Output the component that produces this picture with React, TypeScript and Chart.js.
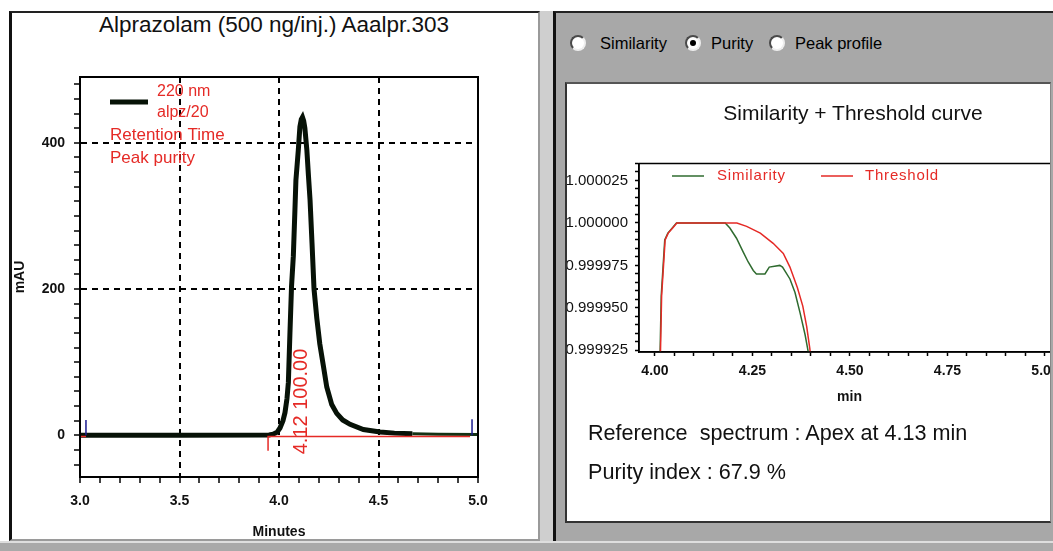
import React, { useEffect, useRef } from 'react';
import { Chart, registerables } from 'chart.js';

Chart.register(...registerables);

const FONT = "'Liberation Sans', Arial, sans-serif";
const RED = '#e52a26';

// ---------- Left panel: chromatogram ----------
const chartTitle = 'Alprazolam (500 ng/inj.) Aaalpr.303';
const chromTimes = [3.0, 3.5, 3.95, 3.97, 3.99, 4.005, 4.02, 4.03, 4.04, 4.047, 4.055, 4.063, 4.072, 4.08, 4.085, 4.097, 4.105, 4.112, 4.118, 4.124, 4.13, 4.14, 4.148, 4.156, 4.166, 4.176, 4.19, 4.205, 4.223, 4.24, 4.265, 4.29, 4.32, 4.357, 4.424, 4.508, 4.58, 4.67, 4.8, 5.0];
const chromValues = [0, 0, 0.5, 1.5, 4, 10, 20, 31, 50, 72, 140, 204, 245, 308, 349, 390, 422, 432, 435, 430, 420, 390, 355, 322, 262, 200, 160, 125, 95, 66, 42, 30, 21, 15, 8, 4.5, 3, 2, 1.5, 1];
const integrationTimes = [3.0, 3.03, 3.031, 3.945, 3.945, 4.96];
const integrationValues = [-1.5, -1.5, null, -21, -1.5, -1.5];
const markerTimes = [3.03, 3.03, 3.031, 4.97, 4.97];
const markerValues = [0, 21, null, 0, 22];
const leftXTickLabels = ['3.0', '3.5', '4.0', '4.5', '5.0'];
const leftXGrid = [3.5, 4.0, 4.5];
const leftYTickLabels = ['0', '200', '400'];
const leftYGrid = [200, 400];
const leftLegend = ['220 nm', 'alpz/20', 'Retention Time', 'Peak purity'];
const peakLabel = '4.12 100.00';
const peakLabelTime = 4.114;
const peakLabelValue = -26;

// ---------- Right panel: similarity / threshold ----------
const radioLabels = ['Similarity', 'Purity', 'Peak profile'];
const rightTitle = 'Similarity + Threshold curve';
const thrTimes = [4.012, 4.017, 4.026, 4.034, 4.047, 4.056, 4.21, 4.235, 4.27, 4.303, 4.329, 4.346, 4.365, 4.379, 4.389, 4.397, 4.402];
const thrValues = [0.9999, 0.999957, 0.99999, 0.999994, 0.9999975, 1.0, 1.0, 0.999998, 0.999994, 0.999988, 0.999982, 0.999974, 0.999962, 0.999951, 0.999939, 0.999926, 0.999915];
const simTimes = [4.011, 4.016, 4.025, 4.033, 4.046, 4.055, 4.18, 4.192, 4.209, 4.226, 4.239, 4.252, 4.26, 4.282, 4.293, 4.32, 4.327, 4.346, 4.359, 4.372, 4.385, 4.393, 4.397];
const simValues = [0.9999, 0.999957, 0.99999, 0.999994, 0.9999975, 1.0, 1.0, 0.999997, 0.999991, 0.999983, 0.999977, 0.999972, 0.99997, 0.99997, 0.999974, 0.999975, 0.999974, 0.999967, 0.999959, 0.999947, 0.999934, 0.999924, 0.999915];
const rightLegend = ['Similarity', 'Threshold'];
const rightXTickLabels = ['4.00', '4.25', '4.50', '4.75', '5.00'];
const rightYTickLabels = ['0.999925', '0.999950', '0.999975', '1.000000', '1.000025'];
const infoLines = ['Reference  spectrum : Apex at 4.13 min', 'Purity index : 67.9 %'];

const pts = (xs: number[], ys: (number | null)[]) => xs.map((x, i) => ({ x, y: ys[i] }));
const near = (v: number, list: number[], eps = 1e-6) => list.some((g) => Math.abs(v - g) < eps);

const leftDecor = {
  id: 'leftDecor',
  afterDatasetsDraw(chart: any) {
    const { ctx, chartArea: a, scales } = chart;
    const x = scales.x;
    const y = scales.y;
    ctx.save();
    ctx.strokeStyle = '#000';
    ctx.lineWidth = 2;
    ctx.strokeRect(a.left, a.top, a.right - a.left, a.bottom - a.top);
    // legend sample
    ctx.lineWidth = 5;
    ctx.strokeStyle = '#071207';
    ctx.beginPath();
    ctx.moveTo(a.left + 30, a.top + 25);
    ctx.lineTo(a.left + 68, a.top + 25);
    ctx.stroke();
    ctx.fillStyle = RED;
    ctx.textAlign = 'left';
    ctx.textBaseline = 'middle';
    ctx.font = `16px ${FONT}`;
    ctx.fillText(leftLegend[0], a.left + 77, a.top + 15);
    ctx.fillText(leftLegend[1], a.left + 77, a.top + 36);
    ctx.font = `17px ${FONT}`;
    ctx.fillText(leftLegend[2], a.left + 30, a.top + 58);
    ctx.fillText(leftLegend[3], a.left + 30, a.top + 81);
    // rotated peak label
    ctx.translate(x.getPixelForValue(peakLabelTime), y.getPixelForValue(peakLabelValue));
    ctx.rotate(-Math.PI / 2);
    ctx.font = `20px ${FONT}`;
    ctx.fillText(peakLabel, 0, 0);
    ctx.restore();
  },
};

const rightDecor = {
  id: 'rightDecor',
  afterDatasetsDraw(chart: any) {
    const { ctx, chartArea: a } = chart;
    ctx.save();
    ctx.strokeStyle = '#000';
    ctx.lineWidth = 1.5;
    ctx.strokeRect(a.left, a.top, a.right - a.left, a.bottom - a.top);
    const ly = a.top + 12.5;
    ctx.lineWidth = 1.5;
    ctx.strokeStyle = '#2f6b2f';
    ctx.beginPath();
    ctx.moveTo(a.left + 33, ly);
    ctx.lineTo(a.left + 65, ly);
    ctx.stroke();
    ctx.strokeStyle = RED;
    ctx.beginPath();
    ctx.moveTo(a.left + 182, ly);
    ctx.lineTo(a.left + 214, ly);
    ctx.stroke();
    ctx.fillStyle = RED;
    ctx.font = `15px ${FONT}`;
    (ctx as any).letterSpacing = '0.8px';
    ctx.textAlign = 'left';
    ctx.textBaseline = 'middle';
    ctx.fillText(rightLegend[0], a.left + 78, ly);
    ctx.fillText(rightLegend[1], a.left + 226, ly);
    ctx.restore();
  },
};

function LeftChart() {
  const ref = useRef<HTMLCanvasElement>(null);
  useEffect(() => {
    const chart = new Chart(ref.current as HTMLCanvasElement, {
      type: 'line',
      data: {
        datasets: [
          {
            data: pts(markerTimes, markerValues),
            borderColor: '#1c1c90',
            borderWidth: 1.5,
            pointRadius: 0,
            order: 0,
          },
          {
            data: pts(integrationTimes, integrationValues),
            borderColor: RED,
            borderWidth: 1.5,
            pointRadius: 0,
            order: 1,
          },
          {
            data: pts(chromTimes, chromValues),
            borderColor: '#071207',
            borderWidth: 5,
            pointRadius: 0,
            tension: 0,
            order: 2,
            segment: {
              borderWidth: (c: any) => (c.p0.parsed.x >= 4.66 ? 3 : 5),
              borderColor: (c: any) => (c.p0.parsed.x >= 4.66 ? '#143214' : '#071207'),
            },
          },
        ] as any,
      },
      options: {
        animation: false,
        responsive: false,
        events: [],
        layout: { padding: { top: 63, right: 60, left: 0, bottom: 0 } },
        plugins: { legend: { display: false }, tooltip: { enabled: false }, title: { display: false } },
        scales: {
          x: {
            type: 'linear',
            min: 3.0,
            max: 5.0,
            afterFit: (s: any) => { s.height = 64; },
            ticks: {
              stepSize: 0.1,
              includeBounds: false,
              autoSkip: false,
              maxRotation: 0,
              padding: 10,
              color: '#111',
              font: { family: FONT, size: 14, weight: 'bold' },
              callback: (v: any) => {
                const s = (Math.round(Number(v) * 10) / 10).toFixed(1);
                return leftXTickLabels.includes(s) ? s : '';
              },
            },
            grid: {
              color: (c: any) => (c.tick && near(c.tick.value, leftXGrid) ? '#000' : 'rgba(0,0,0,0)'),
              lineWidth: 2,
              tickColor: '#000',
              tickLength: 6,
              tickWidth: 1.5,
            },
            border: { color: '#000', width: 2, dash: [6, 5] },
            title: { display: true, text: 'Minutes', color: '#111', font: { family: FONT, size: 14, weight: 'bold' }, padding: { top: 0, bottom: 0 } },
          },
          y: {
            type: 'linear',
            min: -57,
            max: 490,
            afterFit: (s: any) => { s.width = 68; },
            afterBuildTicks: (s: any) => {
              s.ticks = s.ticks.filter((t: any) => Math.abs(t.value / 20 - Math.round(t.value / 20)) < 1e-6);
            },
            ticks: {
              stepSize: 20,
              includeBounds: false,
              autoSkip: false,
              padding: 9,
              color: '#111',
              font: { family: FONT, size: 14, weight: 'bold' },
              callback: (v: any) => {
                const s = String(Math.round(Number(v)));
                return leftYTickLabels.includes(s) ? s : '';
              },
            },
            grid: {
              color: (c: any) => (c.tick && near(c.tick.value, leftYGrid) ? '#000' : 'rgba(0,0,0,0)'),
              lineWidth: 2,
              tickColor: '#000',
              tickLength: 6,
              tickWidth: 1.5,
            },
            border: { color: '#000', width: 2, dash: [6, 5] },
            title: { display: true, text: 'mAU', color: '#111', font: { family: FONT, size: 14, weight: 'bold' }, padding: { top: 0, bottom: 0 } },
          },
        },
      } as any,
      plugins: [leftDecor],
    });
    return () => chart.destroy();
  }, []);
  return <canvas ref={ref} width={526} height={527} style={{ position: 'absolute', left: 12, top: 14 }} />;
}

function RightChart() {
  const ref = useRef<HTMLCanvasElement>(null);
  useEffect(() => {
    const chart = new Chart(ref.current as HTMLCanvasElement, {
      type: 'line',
      data: {
        datasets: [
          {
            data: pts(thrTimes, thrValues),
            borderColor: RED,
            borderWidth: 1.5,
            pointRadius: 0,
            order: 0,
          },
          {
            data: pts(simTimes, simValues),
            borderColor: '#2f6b2f',
            borderWidth: 1.5,
            pointRadius: 0,
            order: 1,
          },
        ] as any,
      },
      options: {
        animation: false,
        responsive: false,
        events: [],
        layout: { padding: { top: 81.5, right: 20, left: 0, bottom: 0 } },
        plugins: { legend: { display: false }, tooltip: { enabled: false } },
        scales: {
          x: {
            type: 'linear',
            min: 3.959,
            max: 5.0385,
            afterFit: (s: any) => { s.height = 70; },
            afterBuildTicks: (s: any) => {
              s.ticks = s.ticks.filter((t: any) => Math.abs(t.value * 20 - Math.round(t.value * 20)) < 1e-6);
            },
            ticks: {
              stepSize: 0.05,
              includeBounds: false,
              autoSkip: false,
              maxRotation: 0,
              padding: 7,
              color: '#111',
              font: { family: FONT, size: 14, weight: 'bold' },
              callback: (v: any) => {
                const s = (Math.round(Number(v) * 100) / 100).toFixed(2);
                return rightXTickLabels.includes(s) ? s : '';
              },
            },
            grid: { drawOnChartArea: false, tickColor: '#000', tickLength: 4, tickWidth: 1.5 },
            border: { color: '#000', width: 1.5 },
            title: { display: true, text: 'min', color: '#111', font: { family: FONT, size: 14, weight: 'bold' }, padding: { top: 0, bottom: 16.5 } },
          },
          y: {
            type: 'linear',
            min: 0.999924,
            max: 1.000035,
            afterFit: (s: any) => { s.width = 99; },
            afterBuildTicks: (s: any) => {
              s.ticks = s.ticks.filter((t: any) => Math.abs(t.value * 200000 - Math.round(t.value * 200000)) < 1e-3);
            },
            ticks: {
              stepSize: 0.000005,
              includeBounds: false,
              autoSkip: false,
              padding: 7,
              color: '#111',
              font: { family: FONT, size: 15 },
              callback: (v: any) => {
                const s = Number(v).toFixed(6);
                return rightYTickLabels.includes(s) ? s : '';
              },
            },
            grid: { drawOnChartArea: false, tickColor: '#000', tickLength: 4, tickWidth: 1.5 },
            border: { color: '#000', width: 1.5 },
          },
        },
      } as any,
      plugins: [rightDecor],
    });
    return () => chart.destroy();
  }, []);
  return <canvas ref={ref} width={540} height={340} style={{ position: 'absolute', left: -27, top: -2 }} />;
}

function Radio({ cx, cy, checked }: { cx: number; cy: number; checked: boolean }) {
  return (
    <div
      style={{
        position: 'absolute',
        left: cx - 8,
        top: cy - 8,
        width: 16,
        height: 16,
        borderRadius: '50%',
        background: '#fff',
        boxSizing: 'border-box',
        border: '2px solid',
        borderColor: '#4a4a4a #eeeeee #eeeeee #4a4a4a',
      }}
    >
      {checked && (
        <div style={{ position: 'absolute', left: 3, top: 3, width: 6, height: 6, borderRadius: '50%', background: '#000' }} />
      )}
    </div>
  );
}

const radioX = [578, 693, 777];
const radioTextX = [600, 711, 795];

export default function App() {
  return (
    <div
      style={{
        position: 'absolute',
        left: 0,
        top: 0,
        width: 1053,
        height: 551,
        overflow: 'hidden',
        background: '#fff',
        fontFamily: FONT,
      }}
    >
      {/* left panel */}
      <div
        style={{
          position: 'absolute',
          left: 9,
          top: 11,
          width: 531,
          height: 530,
          boxSizing: 'border-box',
          background: '#fff',
          borderLeft: '3px solid #111',
          borderTop: '2px solid #222',
          borderRight: '2px solid #9a9a9a',
          borderBottom: '2px solid #9a9a9a',
        }}
      />
      <div style={{ position: 'absolute', left: 540, top: 11, width: 13, height: 530, background: '#cfcfcf' }} />
      <div
        style={{
          position: 'absolute',
          left: 0,
          top: 8,
          width: 540,
          textAlign: 'center',
          fontSize: 22.5,
          lineHeight: '34px',
          color: '#111',
          paddingLeft: 8,
          boxSizing: 'border-box',
          whiteSpace: 'nowrap',
        }}
      >
        {chartTitle}
      </div>
      <LeftChart />

      {/* right panel */}
      <div
        style={{
          position: 'absolute',
          left: 553,
          top: 11,
          width: 500,
          height: 530,
          boxSizing: 'border-box',
          background: '#a8a8a8',
          borderLeft: '3px solid #111',
          borderTop: '2px solid #222',
        }}
      />
      {radioLabels.map((t, i) => (
        <React.Fragment key={t}>
          <Radio cx={radioX[i]} cy={43} checked={i === 1} />
          <div
            style={{
              position: 'absolute',
              left: radioTextX[i],
              top: 33,
              fontSize: 16.5,
              lineHeight: '20px',
              color: '#000',
              whiteSpace: 'nowrap',
            }}
          >
            {t}
          </div>
        </React.Fragment>
      ))}
      <div
        style={{
          position: 'absolute',
          left: 565,
          top: 82,
          width: 486,
          height: 441,
          boxSizing: 'border-box',
          background: '#fff',
          borderLeft: '2px solid #333',
          borderTop: '2px solid #555',
          borderBottom: '2px solid #333',
          borderRight: '1px solid #888',
          overflow: 'hidden',
        }}
      >
        <RightChart />
        <div
          style={{
            position: 'absolute',
            left: 136,
            top: 17,
            width: 300,
            textAlign: 'center',
            fontSize: 21,
            lineHeight: '24px',
            color: '#111',
            whiteSpace: 'nowrap',
          }}
        >
          {rightTitle}
        </div>
        {infoLines.map((t, i) => (
          <div
            key={t}
            style={{
              position: 'absolute',
              left: 21,
              top: 337 + i * 39,
              fontSize: 21.6,
              lineHeight: '24px',
              color: '#111',
              whiteSpace: 'pre',
            }}
          >
            {t}
          </div>
        ))}
      </div>

      {/* bottom band */}
      <div
        style={{
          position: 'absolute',
          left: 0,
          top: 541,
          width: 1053,
          height: 10,
          boxSizing: 'border-box',
          background: '#a9a9a9',
          borderTop: '2px solid #dedede',
        }}
      />
    </div>
  );
}
